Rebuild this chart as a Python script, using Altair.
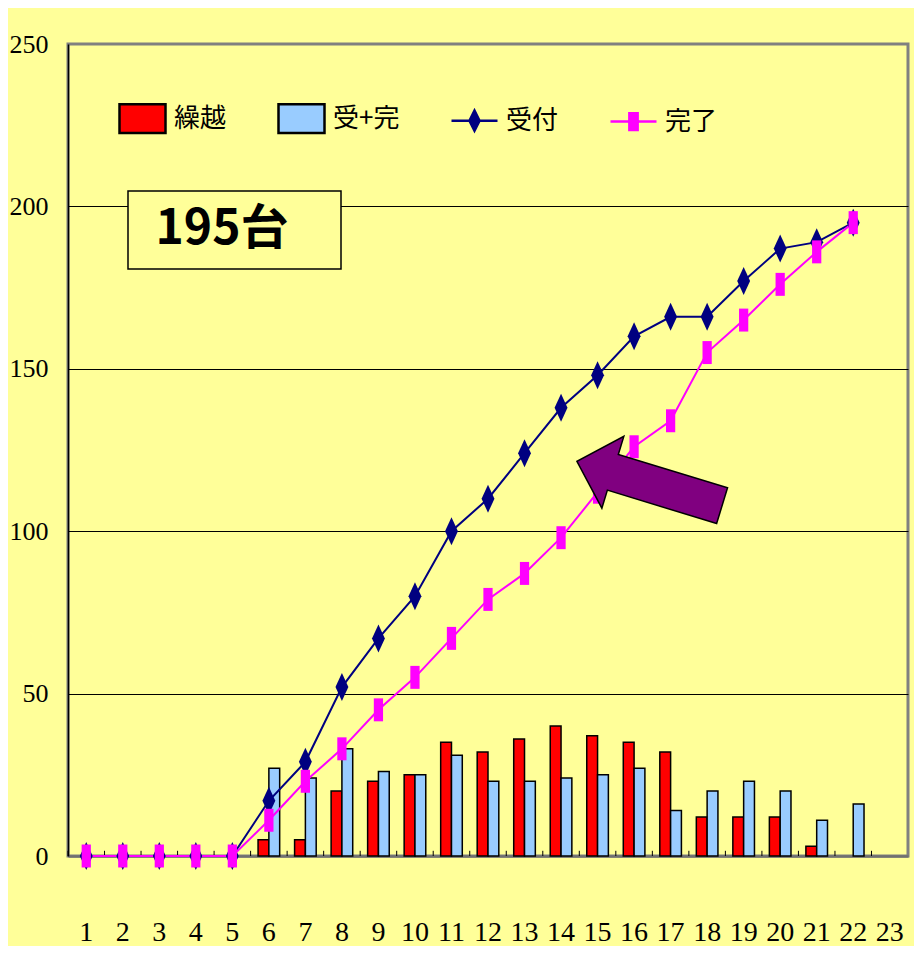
import altair as alt
import pandas as pd

# ---------------- data ----------------
days = list(range(1, 23))
all_days = list(range(1, 24))
uketsuke = [0, 0, 0, 0, 0, 17, 29, 52, 67, 80, 100, 110, 124, 138, 148, 160, 166, 166, 177, 187, 189, 195]
kanryo = [0, 0, 0, 0, 0, 11, 23, 33, 45, 55, 67, 79, 87, 98, 112, 126, 134, 155, 165, 176, 186, 195]
kurikoshi = [0, 0, 0, 0, 0, 5, 5, 20, 23, 25, 35, 32, 36, 40, 37, 35, 32, 12, 12, 12, 3, 0]
ukekan = [0, 0, 0, 0, 0, 27, 24, 33, 26, 25, 31, 23, 23, 24, 25, 27, 14, 20, 23, 20, 11, 16]
series_names = ["繰越", "受+完", "受付", "完了"]
series_colors = ["#FF0000", "#99CCFF", "#000080", "#FF00FF"]
y_ticks = [0, 50, 100, 150, 200, 250]
total_label = "195台"

bars_df = pd.DataFrame({
    "day": days * 2,
    "series": ["繰越"] * len(days) + ["受+完"] * len(days),
    "value": kurikoshi + ukekan,
})
lines_df = pd.DataFrame({
    "day": days * 2,
    "series": ["受付"] * len(days) + ["完了"] * len(days),
    "value": uketsuke + kanryo,
})
ticks_df = pd.DataFrame({"day": all_days})
note_df = pd.DataFrame({"label": [total_label]})

# ---------------- styles ----------------
num_font = "Liberation Serif"
jp_font = "Noto Sans CJK JP"
BG = "#FFFF99"

rect_box = "M-1,-0.62H1V0.62H-1Z"
diamond_leg = "M-1,0H-0.22L0,-0.44L0.22,0H1H0.22L0,0.44L-0.22,0H-1Z"
square_leg = "M-1,0H-0.18V-0.36H0.18V0H1H0.18V0.36H-0.18V0H-1Z"
diamond_mk = "M0,-1L0.46,0L0,1L-0.46,0Z"
square_mk = "M-0.33,-0.82H0.33V0.82H-0.33Z"
arrow_path = "M-1,-0.246L0.505,-0.246L0.505,-0.495L1,0L0.505,0.495L0.505,0.246L-1,0.246Z"
legend_shapes = [rect_box, rect_box, diamond_leg, square_leg]
legend_strokes = ["#000000", "#000000", "#000080", "#FF00FF"]

legend = alt.Legend(
    title=None, orient="none", legendX=50, legendY=50, direction="horizontal",
    columns=4, columnPadding=46, labelFont=jp_font, labelFontSize=26,
    labelColor="black", labelOffset=7, symbolSize=2116, padding=0,
    symbolStrokeWidth=2.5, symbolOpacity=1,
)

xscale = alt.Scale(domain=all_days, paddingInner=0, paddingOuter=0)
yscale = alt.Scale(domain=[0, 250], nice=False)


def cscale():
    return alt.Scale(domain=series_names, range=series_colors)


x_axis = alt.Axis(
    title=None, labelAngle=0, labelFont=num_font, labelFontSize=28, labelColor="black",
    labelPadding=62, ticks=False, domain=True, domainColor="#707070", domainWidth=2.5,
    grid=False, labelOverlap=False,
)
y_axis = alt.Axis(
    title=None, values=y_ticks, grid=True,
    gridColor={"condition": {"test": "datum.value === 250 || datum.value === 0", "value": "transparent"}, "value": "black"},
    gridWidth=1, domain=True, domainColor="black", domainWidth=1.5, ticks=False,
    labelFont=num_font, labelFontSize=26, labelColor="black", labelPadding=20,
    minExtent=60, maxExtent=60,
)

X = alt.X("day:O", scale=xscale, axis=x_axis)
Y = alt.Y("value:Q", scale=yscale, axis=y_axis)

bars = alt.Chart(bars_df).transform_filter("datum.value > 0").mark_bar(
    strokeWidth=1.5, opacity=1
).encode(
    x=X,
    xOffset=alt.XOffset("series:N", scale=alt.Scale(domain=["繰越", "受+完"], paddingInner=0, paddingOuter=0.69)),
    y=Y,
    color=alt.Color("series:N", scale=cscale(), legend=None),
    stroke=alt.value("black"),
)

ticks = alt.Chart(ticks_df).mark_rule(color="black", strokeWidth=1).encode(
    x=alt.X("day:O", scale=xscale, axis=x_axis, bandPosition=0),
    y=alt.datum(0),
    y2=alt.datum(1.6),
)

lines = alt.Chart(lines_df).mark_line(strokeWidth=2).encode(
    x=X, y=Y, color=alt.Color("series:N", scale=cscale(), legend=None)
)

points = alt.Chart(lines_df).mark_point(filled=True, opacity=1, size=784).encode(
    x=X, y=Y,
    color=alt.Color("series:N", scale=cscale(), legend=None),
    shape=alt.Shape("series:N", scale=alt.Scale(domain=["受付", "完了"], range=[diamond_mk, square_mk]), legend=None),
)

# legend-only layer: no rows drawn, the legend comes from the explicit scale domains
legend_layer = alt.Chart(lines_df).transform_filter("false").mark_point(
    filled=True, opacity=1, size=2116
).encode(
    x=X, y=Y,
    color=alt.Color("series:N", scale=cscale(), legend=legend),
    shape=alt.Shape("series:N", scale=alt.Scale(domain=series_names, range=legend_shapes), legend=legend),
    stroke=alt.Stroke("series:N", scale=alt.Scale(domain=series_names, range=legend_strokes), legend=legend),
)

box = alt.Chart(note_df).mark_rect(fill=BG, stroke="black", strokeWidth=1.5).encode(
    x=alt.value(60), x2=alt.value(273), y=alt.value(147), y2=alt.value(225)
)
box_text = alt.Chart(note_df).mark_text(
    font=jp_font, fontWeight="bold", fontSize=48, color="black", align="center", baseline="middle"
).encode(text="label:N", x=alt.value(154), y=alt.value(186))

arrow = alt.Chart(note_df).mark_point(
    shape=arrow_path, filled=True, fill="#800080", stroke="black", strokeWidth=1.5,
    size=23043, angle=197, opacity=1
).encode(x=alt.value(581.5), y=alt.value(439.5))

chart = alt.layer(bars, ticks, lines, points, legend_layer, box, box_text, arrow).resolve_scale(
    color="independent", shape="independent", stroke="independent"
).properties(
    width=840, height=812,
    padding={"left": 0, "top": 23, "right": 6, "bottom": 0},
    background=BG,
).configure_view(fill=BG, stroke="#808080", strokeWidth=3)

chart.save("out.html", embed_options={"renderer": "svg", "actions": False})
